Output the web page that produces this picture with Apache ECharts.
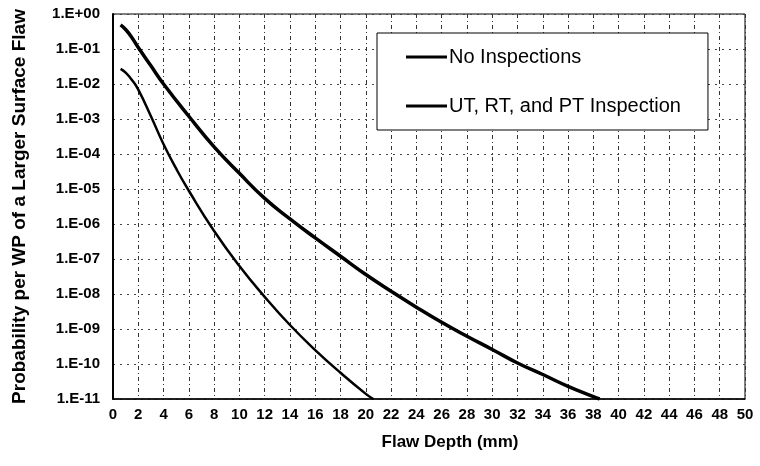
<!DOCTYPE html>
<html>
<head>
<meta charset="utf-8">
<script src="https://cdn.jsdelivr.net/npm/echarts@6/dist/echarts.min.js"></script>
<style>
html,body{margin:0;padding:0;background:#fff;}
#chart{width:760px;height:466px;}
</style>
</head>
<body>
<div id="chart"></div>
<script>
// Flaw depth (mm) sample points
const depthNoInsp = [0.6, 1, 1.5, 2, 3, 4, 6, 8, 10, 12, 14, 16, 18, 20, 22, 24, 26, 28, 30, 32, 34, 36, 38, 38.5];
const probNoInsp  = [4.9e-1, 3.6e-1, 2.1e-1, 1.1e-1, 3.3e-2, 1.0e-2, 1.2e-3, 1.6e-4, 2.8e-5, 5.4e-6, 1.4e-6, 4.0e-7, 1.2e-7, 3.6e-8, 1.2e-8, 4.2e-9, 1.55e-9, 6.2e-10, 2.6e-10, 1.07e-10, 5.0e-11, 2.3e-11, 1.17e-11, 1.0e-11];

const depthInsp = [0.6, 1, 1.5, 2, 3, 4, 5, 6, 8, 10, 12, 14, 16, 18, 20, 20.6];
const probInsp  = [2.7e-2, 2.1e-2, 1.3e-2, 6.9e-3, 1.2e-3, 1.9e-4, 3.8e-5, 8.9e-6, 6.3e-7, 6.3e-8, 8.3e-9, 1.3e-9, 2.5e-10, 5.6e-11, 1.4e-11, 1.0e-11];

const seriesNames = ['No Inspections', 'UT, RT, and PT Inspection'];
const yTickLabels = ['1.E+00','1.E-01','1.E-02','1.E-03','1.E-04','1.E-05','1.E-06','1.E-07','1.E-08','1.E-09','1.E-10','1.E-11'];
const xTitle = 'Flaw Depth (mm)';
const yTitle = 'Probability per WP of a Larger Surface Flaw';

const font = 'Liberation Sans, Arial, sans-serif';
const chart = echarts.init(document.getElementById('chart'), null, {renderer: 'canvas'});

chart.setOption({
  animation: false,
  backgroundColor: '#fff',
  grid: {left: 113, right: 15, top: 14, bottom: 67, show: true, borderColor: '#000', borderWidth: 1},
  legend: {
    orient: 'vertical',
    left: 377, top: 33,
    padding: [14, 27, 14, 29],
    itemGap: 29,
    itemWidth: 41, itemHeight: 3,
    icon: 'rect',
    borderColor: '#000', borderWidth: 1,
    backgroundColor: '#fff',
    textStyle: {fontFamily: font, fontSize: 20, color: '#000', padding: [0,0,0,-3]},
    data: seriesNames
  },
  xAxis: {
    type: 'value', min: 0, max: 50, interval: 2,
    name: xTitle, nameLocation: 'middle', nameGap: 35,
    nameTextStyle: {fontFamily: font, fontSize: 17, fontWeight: 'bold', color: '#000', padding: [0, 0, 0, 42]},
    axisLine: {lineStyle: {color: '#000', width: 1.5}},
    axisTick: {show: false},
    axisLabel: {fontFamily: font, fontSize: 15, fontWeight: 'bold', color: '#000', margin: 8},
    splitLine: {show: true, lineStyle: {color: '#333', type: [4, 3, 1, 3], width: 1}}
  },
  yAxis: {
    type: 'log', logBase: 10, min: 1e-11, max: 1, interval: 1,
    name: yTitle, nameLocation: 'middle', nameGap: 84, nameRotate: 90,
    nameTextStyle: {fontFamily: font, fontSize: 19, fontWeight: 'bold', color: '#000'},
    axisLine: {show: true, lineStyle: {color: '#000', width: 2}},
    axisTick: {show: false},
    axisLabel: {
      fontFamily: font, fontSize: 15, fontWeight: 'bold', color: '#000', margin: 13,
      formatter: function (v) {
        const idx = Math.round(-Math.log10(v));
        return yTickLabels[idx] !== undefined ? yTickLabels[idx] : '';
      }
    },
    splitLine: {show: true, lineStyle: {color: '#444', type: [2, 5], width: 1}}
  },
  series: [
    {
      name: seriesNames[0], type: 'line', smooth: 0.5, showSymbol: false,
      lineStyle: {color: '#000', width: 3.5}, itemStyle: {color: '#000'},
      data: depthNoInsp.map((d, i) => [d, probNoInsp[i]])
    },
    {
      name: seriesNames[1], type: 'line', smooth: 0.5, showSymbol: false,
      lineStyle: {color: '#000', width: 2.5}, itemStyle: {color: '#000'},
      data: depthInsp.map((d, i) => [d, probInsp[i]])
    }
  ]
});
</script>
</body>
</html>
